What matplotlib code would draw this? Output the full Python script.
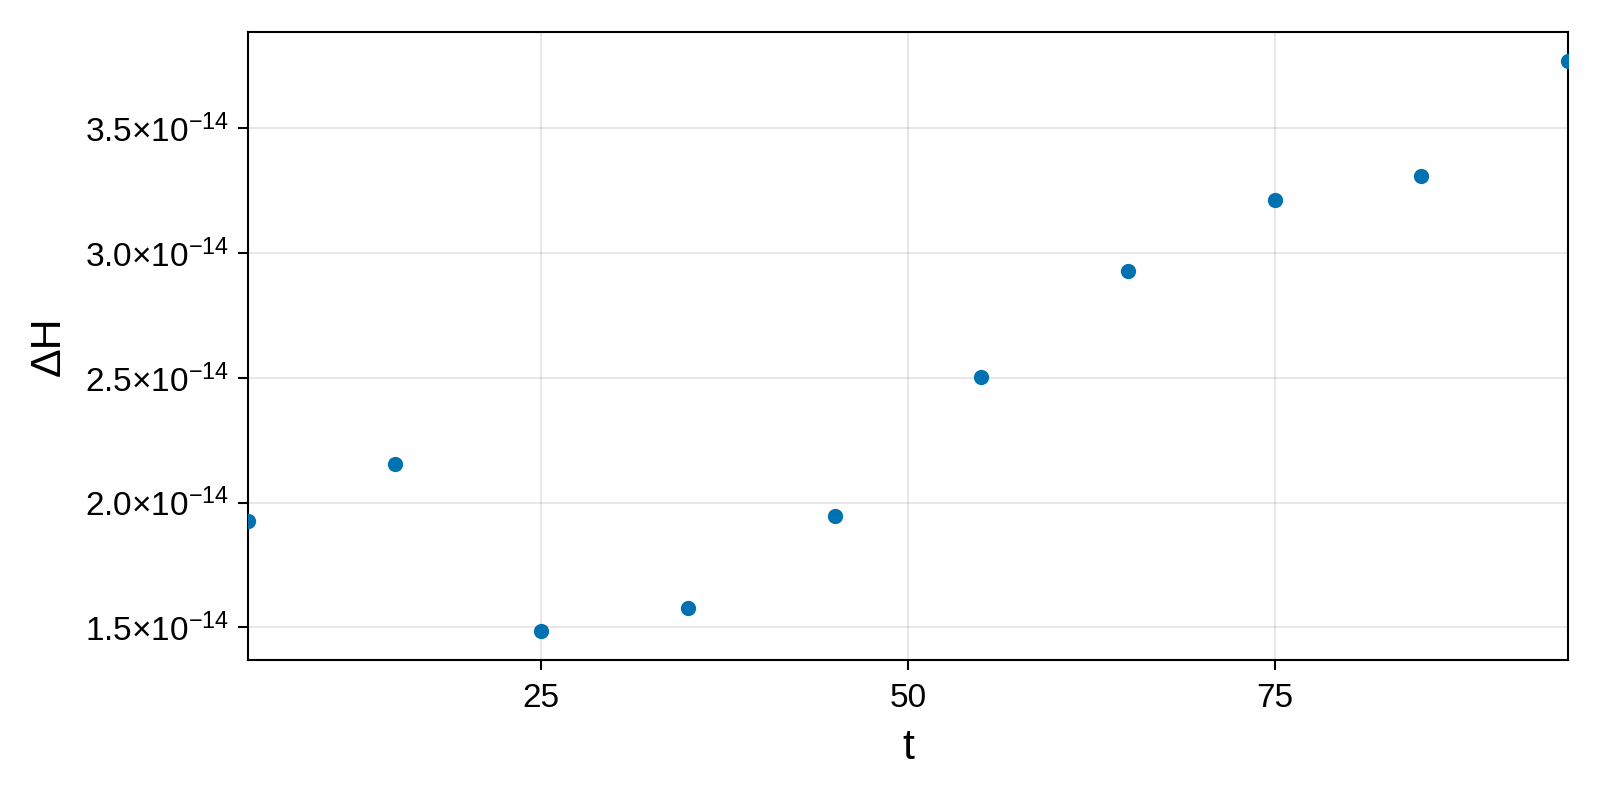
import matplotlib
matplotlib.use("Agg")
import matplotlib.pyplot as plt
from matplotlib.ticker import FixedLocator, FuncFormatter

plt.rcParams['font.family'] = ['Liberation Sans', 'DejaVu Sans']
plt.rcParams['mathtext.fontset'] = 'custom'
plt.rcParams['mathtext.rm'] = 'Liberation Sans'
plt.rcParams['mathtext.it'] = 'Liberation Sans:italic'
plt.rcParams['mathtext.bf'] = 'Liberation Sans:bold'

# data
t = [5, 15, 25, 35, 45, 55, 65, 75, 85, 95]
dH = [1.927e-14, 2.156e-14, 1.484e-14, 1.579e-14, 1.948e-14,
      2.504e-14, 2.929e-14, 3.215e-14, 3.310e-14, 3.772e-14]

x_ticks = [25, 50, 75]
y_ticks = [1.5e-14, 2.0e-14, 2.5e-14, 3.0e-14, 3.5e-14]


def sci_label(v, pos=None):
    mant = v / 1e-14
    return r'$\mathregular{%.1f{\times}10^{-14}}$' % mant


fig = plt.figure(figsize=(16, 8), dpi=100)
ax = fig.add_axes([248 / 1600, 1 - 660 / 800, 1320 / 1600, 628 / 800])

ax.plot(t, dH, 'o', color='#0072B2', markersize=11, markeredgewidth=0,
        zorder=3)

# Makie-style autolimits: 5% margin in y, exact in x
lo, hi = min(dH), max(dH)
pad = 0.05 * (hi - lo)
ax.set_xlim(min(t), max(t))
ax.set_ylim(lo - pad, hi + pad)

ax.xaxis.set_major_locator(FixedLocator(x_ticks))
ax.yaxis.set_major_locator(FixedLocator(y_ticks))
ax.yaxis.set_major_formatter(FuncFormatter(sci_label))

ax.grid(True, color='black', alpha=0.12, linewidth=1.1)
ax.set_axisbelow(True)

for sp in ax.spines.values():
    sp.set_linewidth(1.5)
    sp.set_color('black')

ax.tick_params(axis='both', direction='out', length=7.5, width=1.5,
               labelsize=24, pad=6)
ax.tick_params(axis='x', pad=9)

ax.set_xlabel('t', fontsize=31, labelpad=10)
ax.set_ylabel('ΔH', fontsize=31, labelpad=12)

fig.savefig('out.png', dpi=100)
